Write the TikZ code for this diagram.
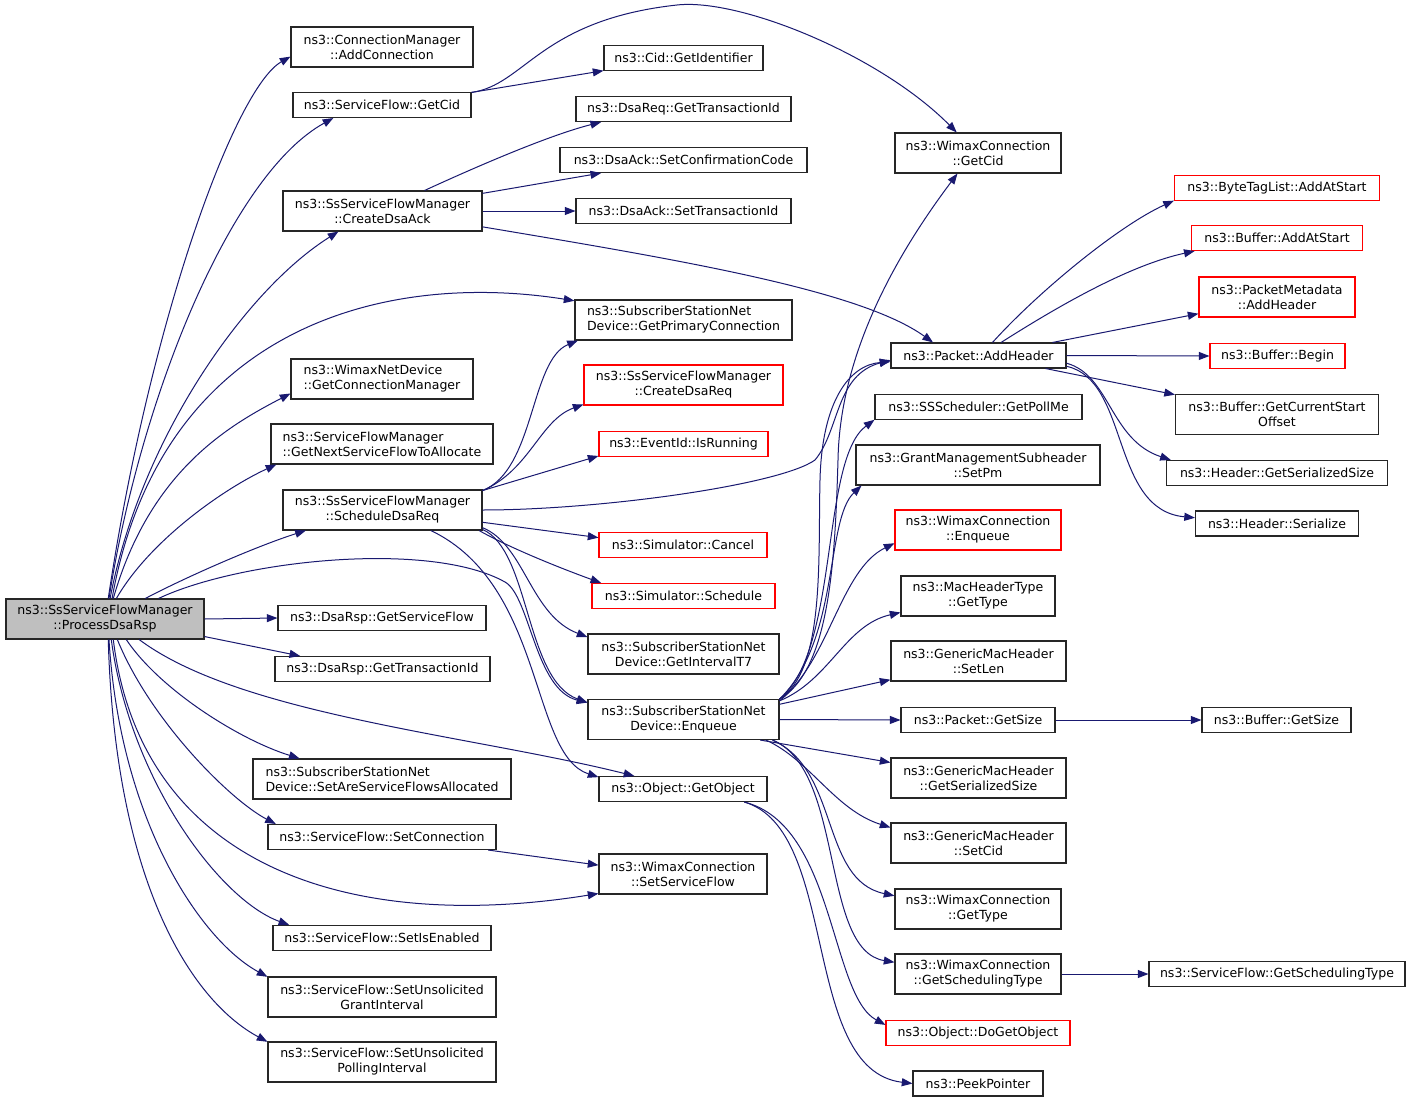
\documentclass[tikz,border=0pt]{standalone}
\usepackage{fontspec}
\newfontfamily\dejavu{DejaVu Sans}
\usepackage{xcolor}
\usepackage{tikz}
\usetikzlibrary{arrows.meta}
\definecolor{callblue}{HTML}{191970}
\definecolor{boxgray}{HTML}{BFBFBF}

\begin{document}
\begin{tikzpicture}[x=0.75pt, y=-0.75pt,
    fn/.style={draw=black!85, fill=white, line width=0.8pt, inner sep=0pt, minimum height=18.75pt, align=center, font=\dejavu\fontsize{9.4}{11.25}\selectfont},
    fntwo/.style={fn, minimum height=30pt},
    hot/.style={draw=red},
    calls/.style={callblue, line width=0.75pt, -{Triangle[length=8pt,width=6pt]}}]
    \useasboundingbox[fill=white] (0,0) rectangle (1411,1103);

    \node[fntwo, fill=boxgray, minimum width=148.5pt] (main) at (105,619) {ns3::SsServiceFlowManager\\::ProcessDsaRsp};

    % called directly
    \node[fntwo, minimum width=136.5pt] (addconn) at (382,47) {ns3::ConnectionManager\\::AddConnection};
    \node[fn, minimum width=133.5pt] (sfgetcid) at (382,105) {ns3::ServiceFlow::GetCid};
    \node[fntwo, minimum width=149.25pt] (createack) at (382.5,211) {ns3::SsServiceFlowManager\\::CreateDsaAck};
    \node[fntwo, align=left, minimum width=136.5pt] (connmgr) at (382,379) {ns3::WimaxNetDevice\\::GetConnectionManager};
    \node[fntwo, align=left, minimum width=166.5pt] (nextsf) at (382,444) {ns3::ServiceFlowManager\\::GetNextServiceFlowToAllocate};
    \node[fntwo, minimum width=149.25pt] (schedreq) at (382.5,510) {ns3::SsServiceFlowManager\\::ScheduleDsaReq};
    \node[fn, minimum width=156pt] (getsf) at (382,618) {ns3::DsaRsp::GetServiceFlow};
    \node[fn, minimum width=161.25pt] (dsarspid) at (382.5,669) {ns3::DsaRsp::GetTransactionId};
    \node[fntwo, align=left, minimum width=193.5pt] (setalloc) at (382,779) {ns3::SubscriberStationNet\\Device::SetAreServiceFlowsAllocated};
    \node[fn, minimum width=171pt] (setconn) at (382,837) {ns3::ServiceFlow::SetConnection};
    \node[fn, minimum width=163.5pt] (setenabled) at (382,938) {ns3::ServiceFlow::SetIsEnabled};
    \node[fntwo, minimum width=171pt] (grantint) at (382,997) {ns3::ServiceFlow::SetUnsolicited\\GrantInterval};
    \node[fntwo, minimum width=171pt] (pollint) at (382,1062) {ns3::ServiceFlow::SetUnsolicited\\PollingInterval};

    % third column
    \node[fn, minimum width=119.25pt] (cidget) at (683.5,58) {ns3::Cid::GetIdentifier};
    \node[fn, minimum width=161.25pt] (dsareqid) at (683.5,109) {ns3::DsaReq::GetTransactionId};
    \node[fn, minimum width=185.25pt] (confcode) at (683.5,160) {ns3::DsaAck::SetConfirmationCode};
    \node[fn, minimum width=161.25pt] (dsaackid) at (683.5,211) {ns3::DsaAck::SetTransactionId};
    \node[fntwo, align=left, minimum width=162.75pt] (primconn) at (683.5,320) {ns3::SubscriberStationNet\\Device::GetPrimaryConnection};
    \node[fntwo, hot, minimum width=149.25pt] (createreq) at (683.5,385) {ns3::SsServiceFlowManager\\::CreateDsaReq};
    \node[fn, hot, minimum width=126.75pt] (isrunning) at (683.5,444) {ns3::EventId::IsRunning};
    \node[fn, hot, minimum width=126pt] (cancel) at (683,545) {ns3::Simulator::Cancel};
    \node[fn, hot, minimum width=137.25pt] (schedule) at (683.5,596) {ns3::Simulator::Schedule};
    \node[fntwo, minimum width=143.25pt] (interval) at (683.5,654) {ns3::SubscriberStationNet\\Device::GetIntervalT7};
    \node[fntwo, minimum width=143.25pt] (enqueue) at (683.5,719.5) {ns3::SubscriberStationNet\\Device::Enqueue};
    \node[fn, minimum width=126pt] (getobject) at (683,789) {ns3::Object::GetObject};
    \node[fntwo, minimum width=126pt] (setsflow) at (683,874) {ns3::WimaxConnection\\::SetServiceFlow};

    % fourth column
    \node[fntwo, minimum width=124.5pt] (wcgetcid) at (978,153) {ns3::WimaxConnection\\::GetCid};
    \node[fn, minimum width=131.25pt] (addheader) at (978.5,355.5) {ns3::Packet::AddHeader};
    \node[fn, minimum width=155.25pt] (pollme) at (978.5,407) {ns3::SSScheduler::GetPollMe};
    \node[fntwo, minimum width=183pt] (setpm) at (978,465) {ns3::GrantManagementSubheader\\::SetPm};
    \node[fntwo, hot, minimum width=124.5pt] (wcenqueue) at (978,530) {ns3::WimaxConnection\\::Enqueue};
    \node[fntwo, minimum width=115.5pt] (mactype) at (978,596) {ns3::MacHeaderType\\::GetType};
    \node[fntwo, minimum width=131.25pt] (setlen) at (978.5,661) {ns3::GenericMacHeader\\::SetLen};
    \node[fn, minimum width=115.5pt] (getsize) at (978,720) {ns3::Packet::GetSize};
    \node[fntwo, minimum width=131.25pt] (gmhsize) at (978.5,778) {ns3::GenericMacHeader\\::GetSerializedSize};
    \node[fntwo, minimum width=131.25pt] (setcid) at (978.5,843) {ns3::GenericMacHeader\\::SetCid};
    \node[fntwo, minimum width=124.5pt] (wctype) at (978,909) {ns3::WimaxConnection\\::GetType};
    \node[fntwo, minimum width=124.5pt] (schedtype) at (978,974) {ns3::WimaxConnection\\::GetSchedulingType};
    \node[fn, hot, minimum width=138pt] (dogetobj) at (978,1033) {ns3::Object::DoGetObject};
    \node[fn, minimum width=97.5pt] (peek) at (978,1083.5) {ns3::PeekPointer};

    % fifth column
    \node[fn, hot, minimum width=153.75pt] (bytetag) at (1277,188) {ns3::ByteTagList::AddAtStart};
    \node[fn, hot, minimum width=128.25pt] (bufadd) at (1277,238) {ns3::Buffer::AddAtStart};
    \node[fntwo, hot, minimum width=117pt] (pmeta) at (1277,297) {ns3::PacketMetadata\\::AddHeader};
    \node[fn, hot, minimum width=101.25pt] (bufbegin) at (1277.5,356) {ns3::Buffer::Begin};
    \node[fntwo, minimum width=152.25pt] (curstart) at (1277,414.5) {ns3::Buffer::GetCurrentStart\\Offset};
    \node[fn, minimum width=165.75pt] (hdrsize) at (1277,473) {ns3::Header::GetSerializedSize};
    \node[fn, minimum width=122.25pt] (hdrser) at (1277,523.5) {ns3::Header::Serialize};
    \node[fn, minimum width=111.75pt] (bufsize) at (1276.5,720) {ns3::Buffer::GetSize};
    \node[fn, minimum width=192pt] (sfsched) at (1277,974) {ns3::ServiceFlow::GetSchedulingType};

    % ProcessDsaRsp
    \draw[calls] (main.81) .. controls (150,320) and (235,88) .. (addconn.186);
    \draw[calls] (main.79) .. controls (140,400) and (230,175) .. (sfgetcid.195);
    \draw[calls] (main.76) .. controls (140,440) and (245,290) .. (createack.205);
    \draw[calls] (main.71) .. controls (160,330) and (380,270) .. (primconn.170);
    \draw[calls] (main.68) .. controls (150,470) and (230,425) .. (connmgr.189);
    \draw[calls] (main.61) .. controls (150,540) and (225,488) .. (nextsf.191);
    \draw[calls] (main.27) .. controls (190,575) and (260,545) .. (schedreq.195);
    \draw[calls] (main.21) .. controls (240,560) and (430,540) .. (505,582) .. controls (530,596) and (535,690) .. (enqueue.170);
    \draw[calls] (main.east) -- (getsf.west);
    \draw[calls] (main.-10) -- (dsarspid.171);
    \draw[calls] (main.-44) .. controls (160,690) and (240,740) .. (setalloc.166);
    \draw[calls] (main.-31) .. controls (240,715) and (470,735) .. (getobject.165);
    \draw[calls] (main.-59) .. controls (150,720) and (230,800) .. (setconn.173);
    \draw[calls] (main.-68) .. controls (140,860) and (340,935) .. (setsflow.193);
    \draw[calls] (main.-73) .. controls (130,780) and (220,900) .. (setenabled.172);
    \draw[calls] (main.-79) .. controls (120,820) and (200,940) .. (grantint.170);
    \draw[calls] (main.-81) .. controls (115,880) and (190,1000) .. (pollint.170);

    \draw[calls] (sfgetcid.8) -- (cidget.189);
    \draw[calls] (sfgetcid.8) .. controls (525,85) and (540,20) .. (677,5) .. controls (740,-2) and (880,55) .. (wcgetcid.136);

    \draw[calls] (createack.26) .. controls (480,165) and (550,135) .. (dsareqid.189);
    \draw[calls] (createack.10) -- (confcode.189);
    \draw[calls] (createack.east) -- (dsaackid.west);
    \draw[calls] (createack.-9) .. controls (680,260) and (860,290) .. (addheader.164);

    % ScheduleDsaReq
    \draw[calls] (schedreq.11) .. controls (535,470) and (530,360) .. (primconn.191);
    \draw[calls] (schedreq.11) .. controls (530,470) and (540,420) .. (createreq.191);
    \draw[calls] (schedreq.11) -- (isrunning.188);
    \draw[calls] (schedreq.east) .. controls (600,510) and (780,485) .. (815,460) .. controls (840,430) and (835,375) .. (addheader.183);
    \draw[calls] (schedreq.-7) -- (cancel.175);
    \draw[calls] (schedreq.-12) .. controls (510,548) and (560,568) .. (schedule.171);
    \draw[calls] (schedreq.-10) .. controls (525,545) and (530,615) .. (interval.170);
    \draw[calls] (schedreq.-11) .. controls (530,550) and (525,680) .. (enqueue.170);
    \draw[calls] (schedreq.-23) .. controls (545,585) and (530,755) .. (getobject.172);

    \draw[calls] (setconn.-7) -- (setsflow.174);

    % Enqueue
    \draw[calls] (enqueue.12) .. controls (830,670) and (835,560) .. (838,460) .. controls (840,350) and (900,250) .. (wcgetcid.225);
    \draw[calls] (enqueue.12) .. controls (825,670) and (818,560) .. (820,480) .. controls (822,400) and (850,365) .. (addheader.184);
    \draw[calls] (enqueue.12) .. controls (840,650) and (820,460) .. (pollme.187);
    \draw[calls] (enqueue.12) .. controls (840,640) and (825,520) .. (setpm.190);
    \draw[calls] (enqueue.11) .. controls (830,660) and (840,570) .. (wcenqueue.189);
    \draw[calls] (enqueue.11) .. controls (830,680) and (845,625) .. (mactype.192);
    \draw[calls] (enqueue.9) -- (setlen.192);
    \draw[calls] (enqueue.east) -- (getsize.west);
    \draw[calls] (enqueue.-15) -- (gmhsize.170);
    \draw[calls] (enqueue.-14) .. controls (810,760) and (835,810) .. (setcid.170);
    \draw[calls] (enqueue.-13) .. controls (840,770) and (820,880) .. (wctype.171);
    \draw[calls] (enqueue.-13) .. controls (845,770) and (820,950) .. (schedtype.172);

    \draw[calls] (getobject.-12) .. controls (835,825) and (830,995) .. (dogetobj.175);
    \draw[calls] (getobject.-12) .. controls (840,830) and (800,1070) .. (peek.west);

    % AddHeader
    \draw[calls] (addheader.43) .. controls (1040,290) and (1120,225) .. (bytetag.187);
    \draw[calls] (addheader.30) .. controls (1060,305) and (1130,265) .. (bufadd.189);
    \draw[calls] (addheader.10) -- (pmeta.192);
    \draw[calls] (addheader.east) -- (bufbegin.west);
    \draw[calls] (addheader.-11) -- (curstart.169);
    \draw[calls] (addheader.-5) .. controls (1110,375) and (1110,440) .. (hdrsize.173);
    \draw[calls] (addheader.-7) .. controls (1130,380) and (1110,510) .. (hdrser.176);

    \draw[calls] (getsize.east) -- (bufsize.west);
    \draw[calls] (schedtype.east) -- (sfsched.west);
\end{tikzpicture}
\end{document}
